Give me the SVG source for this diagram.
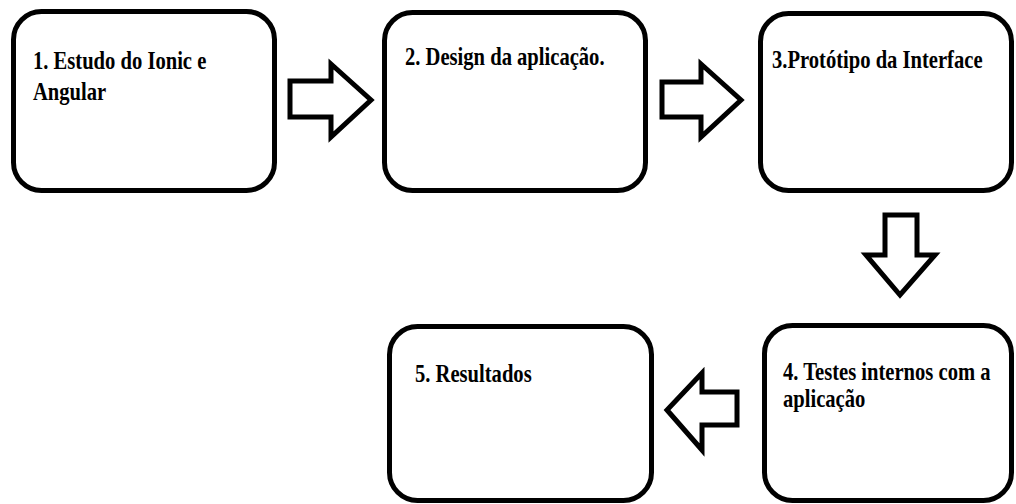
<svg xmlns="http://www.w3.org/2000/svg" width="1016" height="504" viewBox="0 0 1016 504">
<style>
.box{fill:#fff;stroke:#000;stroke-width:5}
.arr{fill:#fff;stroke:#000;stroke-width:5;stroke-linejoin:miter}
.lbl{font-family:"Liberation Serif","Times New Roman",serif;font-weight:bold;font-size:20.6px;fill:#000}
</style>
<rect width="1016" height="504" fill="#fff"/>
<g id="connectors">
<polygon class="arr" points="290,81 331,81 331,64 371,100 331,137 331,117 290,117"/>
<polygon class="arr" points="662,82 701,82 701,64 741,100 701,137 701,117 662,117"/>
<polygon class="arr" points="885,215 917,215 917,255 935,255 900,295 866,255 885,255"/>
<polygon class="arr" points="737,392 702,392 702,373 667,410 702,450 702,425 737,425"/>
</g>
<g id="node1">
<rect class="box" x="13.5" y="11.5" width="261" height="179" rx="28"/>
<text class="lbl" transform="translate(33,69) scale(1,1.25)"><tspan x="0" y="0">1. Estudo do Ionic e</tspan><tspan x="0" y="24.8">Angular</tspan></text>
</g>
<g id="node2">
<rect class="box" x="384.5" y="12.5" width="261" height="178" rx="28"/>
<text class="lbl" transform="translate(405,65) scale(1,1.25)">2. Design da aplicação.</text>
</g>
<g id="node3">
<rect class="box" x="760.5" y="13.5" width="251" height="177" rx="28"/>
<text class="lbl" transform="translate(772,68) scale(1,1.25)">3.Protótipo da Interface</text>
</g>
<g id="node4">
<rect class="box" x="764.5" y="325.5" width="247" height="175" rx="28"/>
<text class="lbl" transform="translate(783,380) scale(1,1.25)"><tspan x="0" y="0">4. Testes internos com a</tspan><tspan x="0" y="21.6">aplicação</tspan></text>
</g>
<g id="node5">
<rect class="box" x="389.5" y="326.5" width="262" height="174" rx="28"/>
<text class="lbl" transform="translate(415,382) scale(1,1.25)">5. Resultados</text>
</g>
</svg>
